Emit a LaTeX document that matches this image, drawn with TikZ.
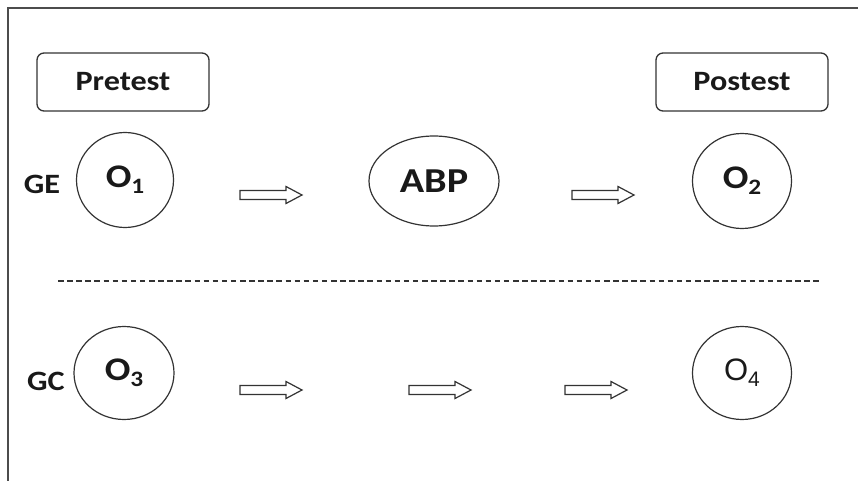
\documentclass[tikz,border=0pt]{standalone}
\usepackage{fontspec}
\setmainfont{Carlito}[FakeStretch=1.15]
\newfontfamily\arialfont{Liberation Sans}
\usetikzlibrary{shapes.geometric}
\newcommand\osub[1]{O\raisebox{-6pt}{\fontsize{22}{22}\selectfont #1}}
\newcommand\blockarrow[2]{\draw[arrowline] (#1) ++(-31,-4.5) -- ++(46,0) -- ++(0,-4) -- ++(16,8.5) -- ++(-16,8.5) -- ++(0,-4) -- ++(-46,0) -- cycle;}
\begin{document}
\begin{tikzpicture}[x=1pt,y=-1pt,
  lbl/.style={font=\fontsize{28}{30}\selectfont\bfseries, text=black!90, inner sep=0pt},
  boxnode/.style={lbl, draw=black!80, line width=1.3pt, rounded corners=7pt, minimum width=172pt, minimum height=58pt},
  obs/.style={lbl, font=\fontsize{33}{34}\selectfont\bfseries, ellipse, draw=black!80, line width=1.2pt, minimum width=97pt, minimum height=95pt},
  arrowline/.style={draw=black!80, line width=1.2pt, line join=miter}
]
\useasboundingbox (0,0) rectangle (858,481);
% frame
\draw[black!70, line width=1.6pt] (858,8) -- (8,8) -- (8,481);
% boxes
\node[boxnode] (pre) at (123,82) {Pretest};
\node[boxnode] (post) at (742,82) {Postest};
% row GE
\node[lbl] (ge) at (42,184) {GE};
\node[obs] (o1) at (125,180) {\osub{1}};
\node[obs, minimum width=130pt, minimum height=90pt, font=\fontsize{35}{36}\selectfont\bfseries] (abp) at (434,181) {ABP};
\node[obs, minimum width=99pt] (o2) at (742,181) {\osub{2}};
\coordinate (a1) at (271,195);
\coordinate (a2) at (603,195);
\blockarrow{a1}{}
\blockarrow{a2}{}
% dashed separator
\coordinate (dl) at (58,281);
\coordinate (dr) at (820,281);
\draw[black!80, line width=1.3pt, dash pattern=on 5.5pt off 3.6pt] (dl) -- (dr);
% row GC
\node[lbl] (gc) at (46,381) {GC};
\node[obs, minimum width=100pt, minimum height=93pt] (o3) at (124,373) {\osub{3}};
\node[obs, minimum width=99pt, minimum height=93pt, font=\fontsize{31}{32}\selectfont\arialfont] (o4) at (742,373) {O\raisebox{-6pt}{\fontsize{21}{21}\selectfont 4}};
\coordinate (b1) at (271,390);
\coordinate (b2) at (440,390);
\coordinate (b3) at (596,390);
\blockarrow{b1}{}
\blockarrow{b2}{}
\blockarrow{b3}{}
\end{tikzpicture}
\end{document}
